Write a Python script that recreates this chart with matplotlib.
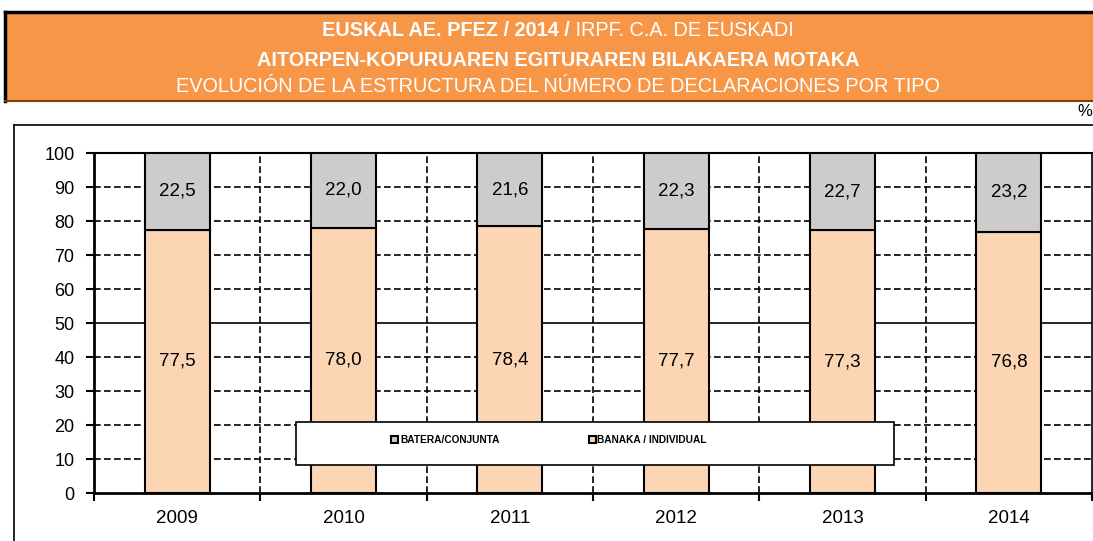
import matplotlib
matplotlib.use("Agg")
import matplotlib.pyplot as plt
from matplotlib.patches import Rectangle
from matplotlib.lines import Line2D

years = ["2009", "2010", "2011", "2012", "2013", "2014"]
banaka = [77.5, 78.0, 78.4, 77.7, 77.3, 76.8]
batera = [22.5, 22.0, 21.6, 22.3, 22.7, 23.2]
yticks = [0, 10, 20, 30, 40, 50, 60, 70, 80, 90, 100]
title1_bold = "EUSKAL AE. PFEZ / 2014 /"
title1_norm = " IRPF. C.A. DE EUSKADI"
title2 = "AITORPEN-KOPURUAREN EGITURAREN BILAKAERA MOTAKA"
title3 = "EVOLUCIÓN DE LA ESTRUCTURA DEL NÚMERO DE DECLARACIONES POR TIPO"
leg_batera = "BATERA/CONJUNTA"
leg_banaka = "BANAKA / INDIVIDUAL"

W, H = 1093, 541
fig = plt.figure(figsize=(W / 100, H / 100), dpi=100)
plt.rcParams['font.family'] = ['Liberation Sans', 'DejaVu Sans']

def fx(px):
    return px / W

def fy(py):
    return 1 - py / H

fam = ['Liberation Sans', 'DejaVu Sans']
tsize = 14.3

# Header box
hdr = Rectangle((fx(5), fy(101)), fx(1093 - 5) + 0.01, (101 - 12) / H,
                transform=fig.transFigure, facecolor="#F79646", edgecolor="none", zorder=1)
fig.add_artist(hdr)
fig.add_artist(Line2D([fx(5), 1.01], [fy(12), fy(12)], transform=fig.transFigure, color="black", lw=2.5))
fig.add_artist(Line2D([fx(5), fx(5)], [fy(12), fy(101)], transform=fig.transFigure, color="black", lw=2.5))
fig.add_artist(Line2D([fx(5), 1.01], [fy(101), fy(101)], transform=fig.transFigure, color="#7F3F10", lw=1.5))

# Title lines
tb = fig.text(0, fy(36), title1_bold, ha="left", va="baseline", color="white",
              fontsize=tsize, fontweight="bold", family=fam)
tn = fig.text(0, fy(36), title1_norm, ha="left", va="baseline", color="white",
              fontsize=tsize, family=fam)
fig.canvas.draw()
r = fig.canvas.get_renderer()
wb = tb.get_window_extent(r).width
wn = tn.get_window_extent(r).width
start = 558 - (wb + wn) / 2
tb.set_x(fx(start))
tn.set_x(fx(start + wb))

fig.text(fx(558), fy(66), title2, ha="center", va="baseline", color="white",
         fontsize=tsize, fontweight="bold", family=fam)
fig.text(fx(558), fy(92), title3, ha="center", va="baseline", color="white",
         fontsize=tsize, family=fam)

fig.text(fx(1092), fy(112), "%", ha="right", va="center", fontsize=12, color="black")

# Outer chart frame
fig.add_artist(Line2D([fx(14), 1.01], [fy(125), fy(125)], transform=fig.transFigure, color="black", lw=1.2))
fig.add_artist(Line2D([fx(14), fx(14)], [fy(125), -0.01], transform=fig.transFigure, color="black", lw=1.2))

ax = fig.add_axes([fx(94), fy(493), fx(1092 - 94), (493 - 153) / H])
x = list(range(len(years)))
bw = 0.39
b1 = ax.bar(x, banaka, width=bw, color="#FCD5B4", edgecolor="black", linewidth=1.5, zorder=3,
            label=leg_banaka)
b2 = ax.bar(x, batera, width=bw, bottom=banaka, color="#CCCCCC", edgecolor="black", linewidth=1.5,
            zorder=3, label=leg_batera)

for xi, a, b in zip(x, banaka, batera):
    ax.text(xi, a / 2, f"{a:.1f}".replace(".", ","), ha="center", va="center", fontsize=13.5, zorder=5)
    ax.text(xi, a + b / 2, f"{b:.1f}".replace(".", ","), ha="center", va="center", fontsize=13.5, zorder=5)

ax.set_xlim(-0.5, len(years) - 0.5)
ax.set_ylim(0, 100)
ax.set_yticks(yticks)
ax.set_yticklabels([str(v) for v in yticks], fontsize=13)
ax.set_xticks([i - 0.5 for i in range(len(years) + 1)])
ax.set_xticklabels([])
ax.set_xticks(x, minor=True)
ax.set_xticklabels(years, minor=True, fontsize=13.5)
ax.tick_params(axis="x", which="minor", length=0, pad=12)
ax.tick_params(axis="x", which="major", length=6, width=1.5, direction="out")
ax.tick_params(axis="y", length=6, width=1.5, direction="out", pad=8)

for v in yticks[1:-1]:
    if v == 50:
        ax.axhline(v, color="black", lw=1.2, zorder=2)
    else:
        ax.axhline(v, color="black", lw=1.2, ls=(0, (4, 2)), zorder=2)
for i in range(1, len(years)):
    ax.axvline(i - 0.5, color="black", lw=1.2, ls=(0, (4, 2)), zorder=2)

for s in ["left", "bottom"]:
    ax.spines[s].set_linewidth(2)
ax.spines["top"].set_linewidth(1.5)
ax.spines["right"].set_linewidth(1.2)

# Legend box
lg_box = Rectangle((fx(296), fy(465)), fx(894 - 296), (465 - 422) / H, transform=fig.transFigure,
                   facecolor="white", edgecolor="black", lw=1.2, zorder=10)
fig.add_artist(lg_box)
leg = fig.legend(handles=[b2, b1], labels=[leg_batera, leg_banaka], ncol=2, frameon=False,
                 loc="center", bbox_to_anchor=(fx(549), fy(440)),
                 prop={"size": 7.3, "weight": "bold"}, handlelength=0.7, handleheight=0.7,
                 handletextpad=0.15, columnspacing=8.8, borderpad=0)
leg.set_zorder(11)

fig.savefig("out.png", dpi=100)
